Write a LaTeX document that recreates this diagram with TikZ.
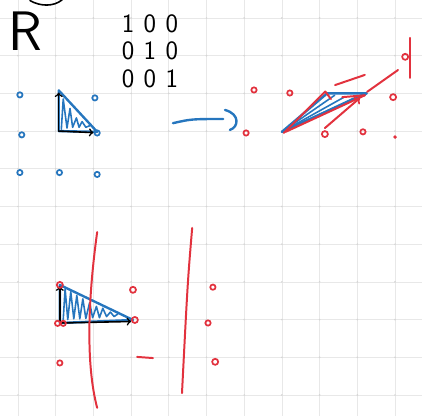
\documentclass[tikz,border=0pt]{standalone}
\usepackage{tikz}
\usetikzlibrary{positioning}

\definecolor{penblue}{RGB}{38,118,190}
\definecolor{penred}{RGB}{226,50,62}

\tikzset{
  gridline/.style={gray!18, line width=0.5pt},
  bluepen/.style={penblue, line width=1.8pt, line cap=round, line join=round},
  redpen/.style={penred, line width=1.5pt, line cap=round, line join=round},
  blackpen/.style={black, line width=1.2pt, line cap=round},
  bluedot/.style={penblue, line width=1.3pt},
  reddot/.style={penred, line width=1.3pt},
}

\begin{document}
\begin{tikzpicture}
        \useasboundingbox (-0.477,-0.557) rectangle (10.716,10.477);
        \draw[gridline, step=1] (-0.477,-0.557) grid (10.716,10.477);
        \foreach \x in {0,...,10}
            \foreach \y in {0,...,10}
                \fill[gray!32] (\x,\y) circle (0.025);

        % top left: R and identity
        \node[font=\sffamily\fontsize{42}{42}\selectfont] (R) at (0.19,9.66) {R};
        \draw[blackpen] (0.32,10.46) .. controls (0.6,10.3) and (0.95,10.3) .. (1.17,10.48);
        \node[align=center, font=\sffamily\fontsize{20}{21}\selectfont] (idmat) at (3.5,9.12)
            {1\hspace{2.5mm}0\hspace{2.5mm}0\\0\hspace{2.5mm}1\hspace{2.5mm}0\\0\hspace{2.5mm}0\hspace{2.5mm}1};

        % blue points
        \draw[bluedot] (0.05,7.96) circle (0.07);
        \draw[bluedot] (2.04,7.88) circle (0.07);
        \draw[bluedot] (0.1,6.9) circle (0.07);
        \draw[bluedot] (2.1,6.95) circle (0.07);
        \draw[bluedot] (0.05,5.9) circle (0.07);
        \draw[bluedot] (1.1,5.9) circle (0.07);
        \draw[bluedot] (2.1,5.85) circle (0.07);

        % first triangle
        \draw[bluepen] (1.08,8.08) -- (2.1,6.98) -- (1.08,7.0) -- cycle;
        \draw[bluepen, line width=1.2pt] (1.15,7.05) -- (1.2,7.85) -- (1.3,7.08) -- (1.38,7.6)
            -- (1.45,7.1) -- (1.55,7.35) -- (1.62,7.1) -- (1.7,7.25) -- (1.8,7.1) -- (1.92,7.15);
        \draw[blackpen, ->] (1.08,7.0) -- (1.08,8.02);
        \draw[blackpen, ->] (1.08,7.0) -- (2.0,6.96);

        % map arrow
        \draw[bluepen] (4.11,7.21) .. controls (4.6,7.32) .. (5.44,7.32);
        \draw[bluepen] (5.49,7.56) .. controls (5.9,7.45) and (5.85,7.1) .. (5.62,7.03);

        % red points, top right
        \draw[reddot] (6.26,8.09) circle (0.07);
        \draw[reddot] (7.21,8.01) circle (0.07);
        \draw[reddot] (9.95,7.9) circle (0.08);
        \draw[reddot] (6.05,6.95) circle (0.07);
        \draw[reddot] (8.14,6.92) circle (0.08);
        \draw[reddot] (9.15,6.98) circle (0.07);
        \fill[penred] (10.0,6.84) circle (0.05);
        \draw[reddot] (10.27,8.97) circle (0.08);
        \draw[redpen] (10.4,9.47) -- (10.4,8.41);

        % sheared triangle
        \draw[bluepen] (7.0,6.98) -- (8.2,8.0) -- (9.25,8.0) -- cycle;
        \draw[bluepen, line width=1.2pt] (7.0,6.98) -- (8.4,7.95);
        \draw[bluepen, line width=1.2pt] (7.0,6.98) -- (8.65,7.9);
        \draw[bluepen, line width=1.2pt] (7.0,6.98) -- (8.9,7.87);
        \draw[redpen] (7.05,6.95) -- (8.15,8.05) -- (8.3,7.85);
        \draw[redpen] (7.1,6.98) -- (9.2,7.95);
        \draw[redpen] (8.6,7.9) -- (9.2,7.95);
        \draw[redpen] (8.41,8.22) -- (9.2,8.49);
        \draw[redpen] (9.26,8.04) -- (10.08,8.62);
        \draw[redpen, ->] (8.14,7.08) -- (9.07,7.88);

        % bottom: triangle and red points
        \draw[bluepen] (1.11,2.92) -- (3.05,1.99) -- (1.11,1.91) -- cycle;
        \draw[bluepen, line width=1.2pt] (1.2,2.0) -- (1.25,2.82) -- (1.32,2.0) -- (1.4,2.74)
            -- (1.48,2.02) -- (1.56,2.64) -- (1.64,2.02) -- (1.72,2.55) -- (1.8,2.03)
            -- (1.9,2.45) -- (1.98,2.05) -- (2.08,2.35) -- (2.16,2.05) -- (2.25,2.3)
            -- (2.35,2.08) -- (2.45,2.2) -- (2.55,2.08) -- (2.65,2.15);
        \draw[blackpen, ->] (1.11,1.91) -- (1.11,2.88);
        \draw[blackpen, ->] (1.11,1.91) -- (3.0,1.95);

        \draw[reddot] (1.11,2.92) circle (0.08);
        \draw[reddot] (1.05,1.9) circle (0.07);
        \draw[reddot] (1.2,1.9) circle (0.07);
        \draw[reddot] (1.11,0.85) circle (0.07);
        \draw[reddot] (3.05,2.79) circle (0.08);
        \draw[reddot] (3.1,1.99) circle (0.08);
        \draw[redpen] (3.16,1.01) -- (3.58,0.98);
        \draw[reddot] (5.17,2.86) circle (0.07);
        \draw[reddot] (5.04,1.91) circle (0.07);
        \draw[reddot] (5.23,0.88) circle (0.08);

        % cut lines
        \draw[redpen] (2.1,4.32) .. controls (1.85,2.5) and (1.8,0.8) .. (2.1,-0.34);
        \draw[redpen] (4.62,4.43) .. controls (4.5,3.0) .. (4.35,0.05);
    \end{tikzpicture}
\end{document}
